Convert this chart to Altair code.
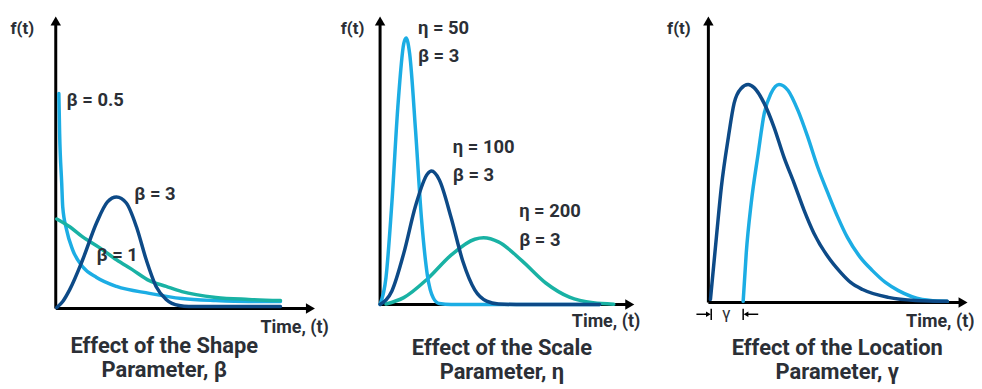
import altair as alt
import pandas as pd

# ---------------- data ----------------
# Panel 1 : effect of the shape parameter (arbitrary units)
p1_b05_t = [0.12, 0.15, 0.23, 0.27, 0.42, 0.65, 1.04, 1.58, 2.35, 3.62, 4.88, 6.19, 7.46, 8.69]
p1_b05_f = [7.42, 6.05, 4.33, 3.51, 2.71, 2.03, 1.44, 1.07, 0.76, 0.52, 0.34, 0.27, 0.24, 0.24]
p1_b1_t = [0.04, 0.54, 1.04, 1.69, 2.35, 2.96, 3.62, 4.27, 4.88, 6.19, 7.46, 8.69]
p1_b1_f = [3.09, 2.82, 2.47, 2.10, 1.68, 1.34, 0.96, 0.76, 0.58, 0.38, 0.31, 0.27]
p1_b3_t = [0.04, 0.27, 0.54, 1.04, 1.58, 2.0, 2.35, 2.73, 3.12, 3.5, 3.88, 4.27, 4.77, 5.15, 8.69]
p1_b3_f = [0.03, 0.24, 0.65, 1.68, 2.96, 3.68, 3.85, 3.64, 2.82, 1.68, 0.76, 0.31, 0.10, 0.07, 0.07]
p1_labels = ["β = 0.5", "β = 3", "β = 1"]
p1_label_t = [0.42, 3.04, 1.58]
p1_label_f = [7.18, 3.95, 1.86]

# Panel 2 : effect of the scale parameter (t, f x 1e-3)
p2_e50_t = [0, 10, 20, 30, 40, 44, 50, 60, 70, 80, 90, 100, 120, 371]
p2_e50_f = [0, 2.38, 9.0, 17.4, 23.0, 23.5, 22.1, 15.3, 7.56, 2.56, 0.57, 0.08, 0, 0]
p2_e100_t = [0, 20, 40, 60, 80, 87, 100, 120, 140, 160, 180, 200, 230, 371]
p2_e100_f = [0, 1.19, 4.50, 8.70, 11.5, 11.76, 11.0, 7.67, 3.78, 1.28, 0.29, 0.04, 0, 0]
p2_e200_t = [10, 40, 80, 120, 160, 175, 200, 240, 280, 320, 360, 395]
p2_e200_f = [0.04, 0.60, 2.25, 4.35, 5.75, 5.88, 5.52, 3.84, 1.89, 0.64, 0.14, 0.02]
p2_labels = ["η = 50", "β = 3", "η = 100", "β = 3", "η = 200", "β = 3"]
p2_label_t = [64, 64, 123, 123, 235, 235]
p2_label_f = [24.4, 21.9, 13.9, 11.4, 8.2, 5.7]

# Panel 3 : effect of the location parameter (arbitrary units)
p3_g0_t = [0.08, 0.31, 0.50, 0.77, 0.99, 1.26, 1.53, 1.76, 2.15, 2.53, 2.91, 3.30, 3.68, 4.06,
           4.60, 5.10, 5.48, 5.94, 6.93, 7.97, 9.20]
p3_g0_f = [0.11, 2.33, 4.10, 5.87, 7.07, 7.60, 7.74, 7.63, 7.07, 6.22, 5.16, 4.24, 3.29, 2.47,
           1.63, 1.06, 0.71, 0.46, 0.18, 0.07, 0.04]
p3_g1_t = [1.34, 1.46, 1.65, 1.92, 2.15, 2.41, 2.72, 3.07, 3.45, 3.83, 4.21, 4.60, 4.98, 5.36,
           5.86, 6.32, 6.82, 7.32, 8.24, 9.20]
p3_g1_f = [0.04, 1.77, 3.53, 5.30, 6.71, 7.42, 7.74, 7.53, 6.82, 5.87, 4.81, 3.89, 3.04, 2.30,
           1.59, 1.13, 0.71, 0.42, 0.11, 0.04]

LIGHT = "#1cade4"
DARK = "#0d4a87"
TEAL = "#19b2a4"
TEXT = "#2b2f36"
FONT = "Roboto"


def panel(lines, labels, xmin, xmax, ymax, w, h, ytitle_dx, xtitle_dx, xtitle_dy, title_lines,
          title_dx, title_offset, extra=None):
    xs = alt.Scale(domain=[xmin, xmax], nice=False, zero=False)
    ys = alt.Scale(domain=[0, ymax], nice=False, zero=False)
    x = alt.X("t:Q", scale=xs, axis=alt.Axis(
        domain=False, ticks=False, labels=False, grid=False,
        title="Time, (t)", titleX=w + xtitle_dx, titleY=xtitle_dy, titleAlign="right",
        titleBaseline="middle", titleFont=FONT, titleFontSize=18, titleFontWeight="bold",
        titleColor=TEXT))
    y = alt.Y("f:Q", scale=ys, axis=alt.Axis(
        domain=False, ticks=False, labels=False, grid=False,
        title="f(t)", titleAngle=0, titleX=ytitle_dx, titleY=8, titleAlign="left",
        titleBaseline="middle", titleFont=FONT, titleFontSize=17, titleFontWeight="bold",
        titleColor=TEXT))
    layers = []
    # axis lines with arrow heads
    xline = pd.DataFrame({"t": [0], "t2": [xmax], "f": [0]})
    yline = pd.DataFrame({"t": [0], "f": [0], "f2": [ymax]})
    layers.append(alt.Chart(xline).mark_rule(color="black", strokeWidth=3).encode(x=x, x2="t2:Q", y=y))
    layers.append(alt.Chart(yline).mark_rule(color="black", strokeWidth=3).encode(x=x, y=y, y2="f2:Q"))
    for tt, ff, col in lines:
        df = pd.DataFrame({"t": tt, "f": ff})
        layers.append(alt.Chart(df).mark_line(color=col, strokeWidth=3.5, interpolate="monotone",
                                              strokeCap="round").encode(x=x, y=y))
    up = pd.DataFrame({"t": [0], "f": [ymax]})
    right = pd.DataFrame({"t": [xmax], "f": [0]})
    layers.append(alt.Chart(up).mark_point(shape="triangle-up", filled=True, size=110, color="black",
                                           opacity=1).encode(x=x, y=y))
    layers.append(alt.Chart(right).mark_point(shape="triangle-right", filled=True, size=110,
                                              color="black", opacity=1).encode(x=x, y=y))
    if labels is not None:
        txt, lt, lf = labels
        ldf = pd.DataFrame({"t": lt, "f": lf, "text": txt})
        layers.append(alt.Chart(ldf).mark_text(align="left", baseline="middle", font=FONT,
                                               fontSize=18.5, fontWeight="bold", color=TEXT)
                      .encode(x=x, y=y, text="text:N"))
    if extra is not None:
        layers.extend(extra(x, y))
    return alt.layer(*layers).properties(
        width=w, height=h,
        title=alt.TitleParams(text=title_lines, orient="bottom", anchor="middle", dx=title_dx,
                              offset=title_offset, font=FONT, fontSize=22, fontWeight="bold",
                              color=TEXT, lineHeight=24))


def gamma_marks(x, y):
    shafts = pd.DataFrame({"t": [-0.46, 1.45], "t2": [0.0, 1.92], "f": [-0.42, -0.42]})
    bars = pd.DataFrame({"t": [0.11, 1.34], "f": [-0.22, -0.22], "f2": [-0.62, -0.62]})
    heads = pd.DataFrame({"t": [0.0, 1.45], "f": [-0.42, -0.42], "s": ["triangle-right", "triangle-left"]})
    g = pd.DataFrame({"t": [0.69], "f": [-0.42], "text": ["γ"]})
    return [
        alt.Chart(shafts).mark_rule(color="black", strokeWidth=1.5).encode(x=x, x2="t2:Q", y=y),
        alt.Chart(bars).mark_rule(color="black", strokeWidth=1.5).encode(x=x, y=y, y2="f2:Q"),
        alt.Chart(heads).mark_point(filled=True, size=30, color="black", opacity=1).encode(
            x=x, y=y, shape=alt.Shape("s:N", scale=None)),
        alt.Chart(g).mark_text(align="center", baseline="middle", font=FONT, fontSize=17,
                               color=TEXT).encode(x=x, y=y, text="text:N"),
    ]


p1 = panel([(p1_b05_t, p1_b05_f, LIGHT), (p1_b1_t, p1_b1_f, TEAL), (p1_b3_t, p1_b3_f, DARK)],
           (p1_labels, p1_label_t, p1_label_f), 0, 9.85, 9.93, 256, 289, -46, 18, 19,
           ["Effect of the Shape", "Parameter, β"], -19, 0)
p2 = panel([(p2_e200_t, p2_e200_f, TEAL), (p2_e50_t, p2_e50_f, LIGHT), (p2_e100_t, p2_e100_f, DARK)],
           (p2_labels, p2_label_t, p2_label_f), 0, 422, 25.0, 251, 285, -40, 10, 17,
           ["Effect of the Scale", "Parameter, η"], -3, 8)
p3 = panel([(p3_g1_t, p3_g1_f, LIGHT), (p3_g0_t, p3_g0_f, DARK)],
           None, -0.345, 9.81, 10.0, 265, 283, -33, 11, 19,
           ["Effect of the Location", "Parameter, γ"], 6, 8, extra=gamma_marks)

chart = alt.hconcat(p1, p2, p3, spacing=70, bounds="flush").configure_view(stroke=None).properties(
    padding={"left": 2, "top": 7, "right": 0, "bottom": 0})

chart.save("out.html", embed_options={"renderer": "svg", "actions": False})
